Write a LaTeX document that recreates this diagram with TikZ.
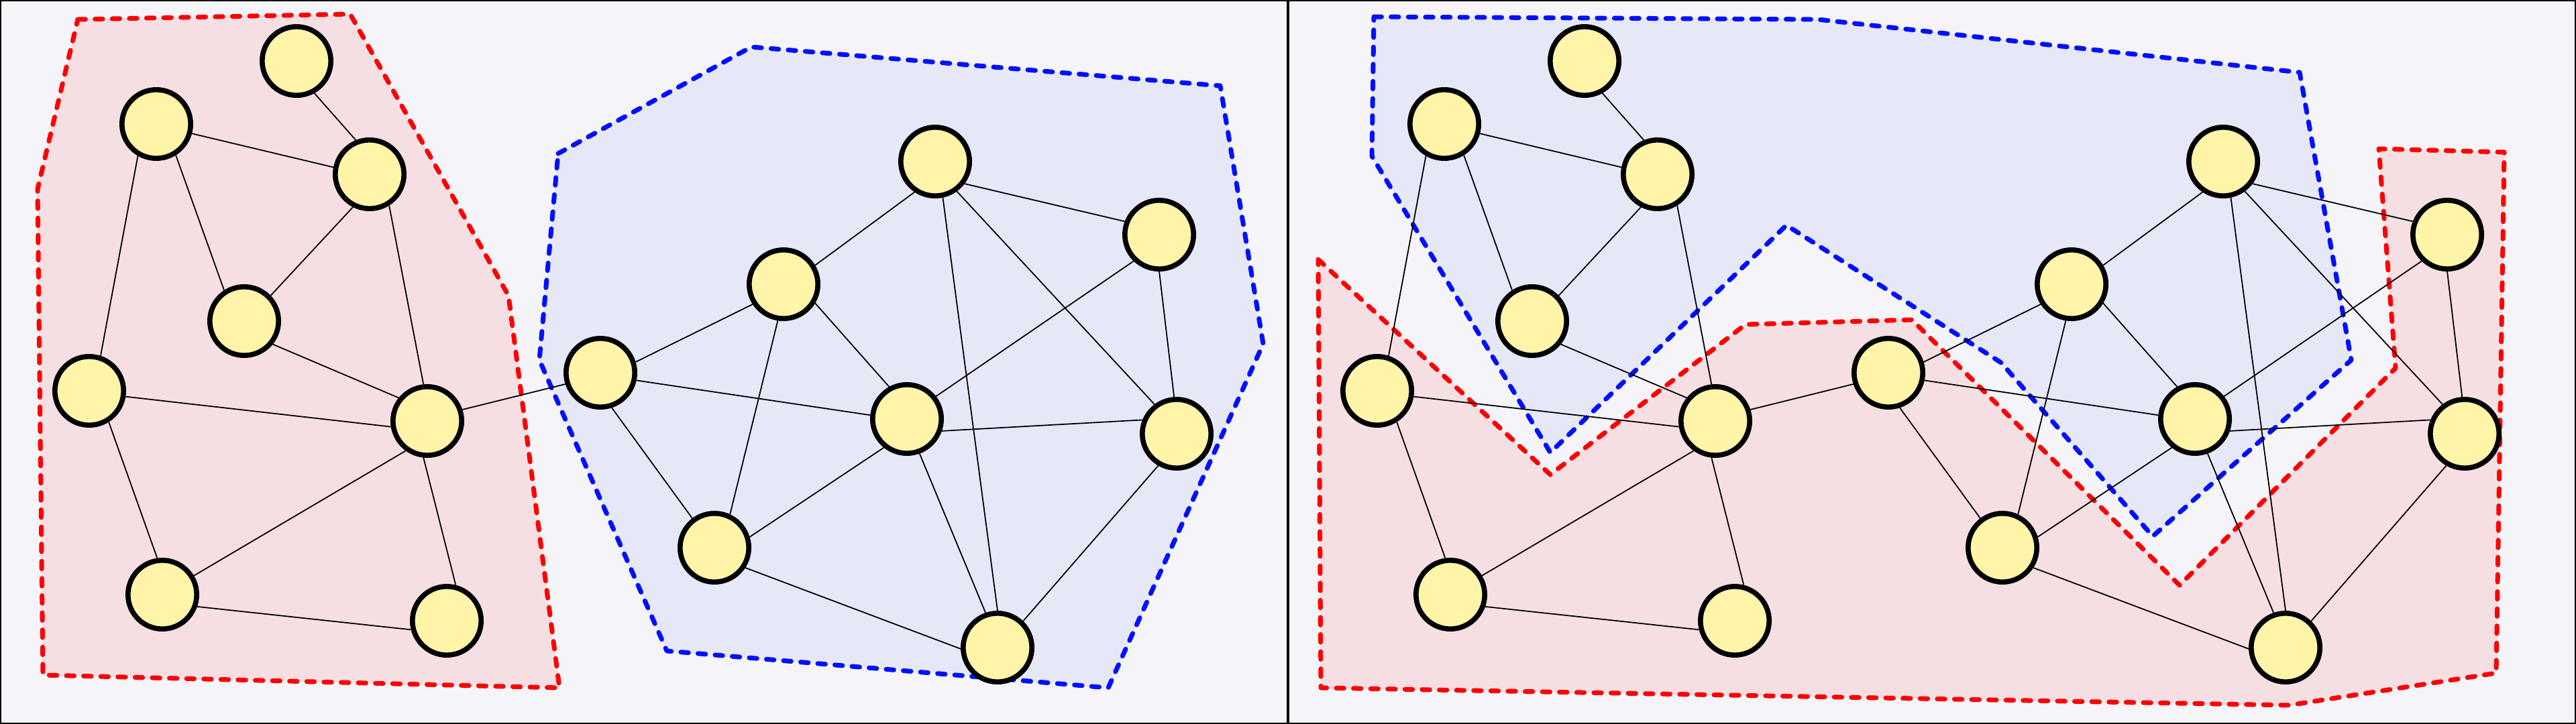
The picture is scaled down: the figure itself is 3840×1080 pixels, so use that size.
\documentclass[tikz,border=0pt]{standalone}
\definecolor{panelbg}{HTML}{F4F4F9}
\definecolor{redfill}{HTML}{F5DFE3}
\definecolor{bluefill}{HTML}{E6E8F8}
\definecolor{nodefill}{HTML}{FFF4A8}
\definecolor{redline}{HTML}{FF0000}
\definecolor{blueline}{HTML}{0010FF}
\begin{document}
\begin{tikzpicture}[x=0.25pt,y=-0.25pt,
  vertex/.style={draw,circle,line width=1.9pt,fill=nodefill,inner sep=0pt,minimum size=25.6pt},
  link/.style={line width=0.45pt},
  group/.style={line width=1.75pt,dash pattern=on 2.85pt off 3.55pt,line cap=round,line join=round},
  redgroup/.style={group,draw=redline,fill=redfill},
  bluegroup/.style={group,draw=blueline,fill=bluefill}]
  \useasboundingbox (0,0) rectangle (3840,1080);
  \fill[panelbg] (0,0) rectangle (3840,1080);
  % left panel: two compact groups
  \draw[redgroup] (116,29) -- (522,21) -- (758,441) -- (834,1026) -- (64,1007) -- (56,282) -- cycle;
  \draw[bluegroup] (832,229) -- (1120,70) -- (1819,128) -- (1883,513) -- (1652,1026) -- (994,971) -- (804,537) -- cycle;
  % right panel: interleaved groups
  \draw[redgroup] (1965,387) -- (2311,708) -- (2602,484) -- (2850,477) -- (3249,873) -- (3571,549) -- (3546,222)
    -- (3733,227) -- (3721,1004) -- (3412,1052) -- (1969,1026) -- cycle;
  \draw[bluegroup] (2048,25) -- (2710,29) -- (3428,108) -- (3505,537) -- (3209,800) -- (2983,541) -- (2663,336)
    -- (2311,675) -- (2045,233) -- cycle;
  % same graph in both panels
  \foreach \p/\dx in {l/0,r/1920} {
    \node (\p a1) [vertex] at (\dx+442,91) {};
    \node (\p a2) [vertex] at (\dx+233,185) {};
    \node (\p a3) [vertex] at (\dx+551,260) {};
    \node (\p a4) [vertex] at (\dx+364,479) {};
    \node (\p a5) [vertex] at (\dx+133,583) {};
    \node (\p a6) [vertex] at (\dx+637,628) {};
    \node (\p a7) [vertex] at (\dx+242,887) {};
    \node (\p a8) [vertex] at (\dx+666,926) {};
    \node (\p b1) [vertex] at (\dx+895,556) {};
    \node (\p b2) [vertex] at (\dx+1168,424) {};
    \node (\p b3) [vertex] at (\dx+1394,241) {};
    \node (\p b4) [vertex] at (\dx+1728,350) {};
    \node (\p b5) [vertex] at (\dx+1352,625) {};
    \node (\p b6) [vertex] at (\dx+1754,647) {};
    \node (\p b7) [vertex] at (\dx+1065,817) {};
    \node (\p b8) [vertex] at (\dx+1487,966) {};
    % edges: node/angle/node/angle
    \foreach \u/\a/\v/\b in {a1/299/a3/112,a2/345/a3/169,a2/302/a4/123,a2/240/a5/72,a3/243/a4/44,
      a3/302/a6/96,a4/321/a6/141,a5/351/a6/189,a5/302/a7/98,a6/234/a7/31,a6/264/a8/76,a7/341/a8/194,
      a6/18/b1/198,b1/17/b2/213,b1/348/b5/174,b1/288/b7/127,b2/31/b3/236,b2/329/b5/119,b2/261/b7/65,
      b3/323/b4/159,b3/282/b8/90,b3/306/b6/127,b4/226/b5/38,b4/270/b6/94,b5/341/b6/158,b5/231/b7/17,
      b5/290/b8/109,b6/240/b8/46,b7/327/b8/182}
      \draw[link] (\p\u.\a) -- (\p\v.\b);
  }
  % panel frames
  \draw[line width=1pt] (0,0) rectangle (1920,1080);
  \draw[line width=1pt] (1920,0) rectangle (3840,1080);
\end{tikzpicture}
\end{document}
